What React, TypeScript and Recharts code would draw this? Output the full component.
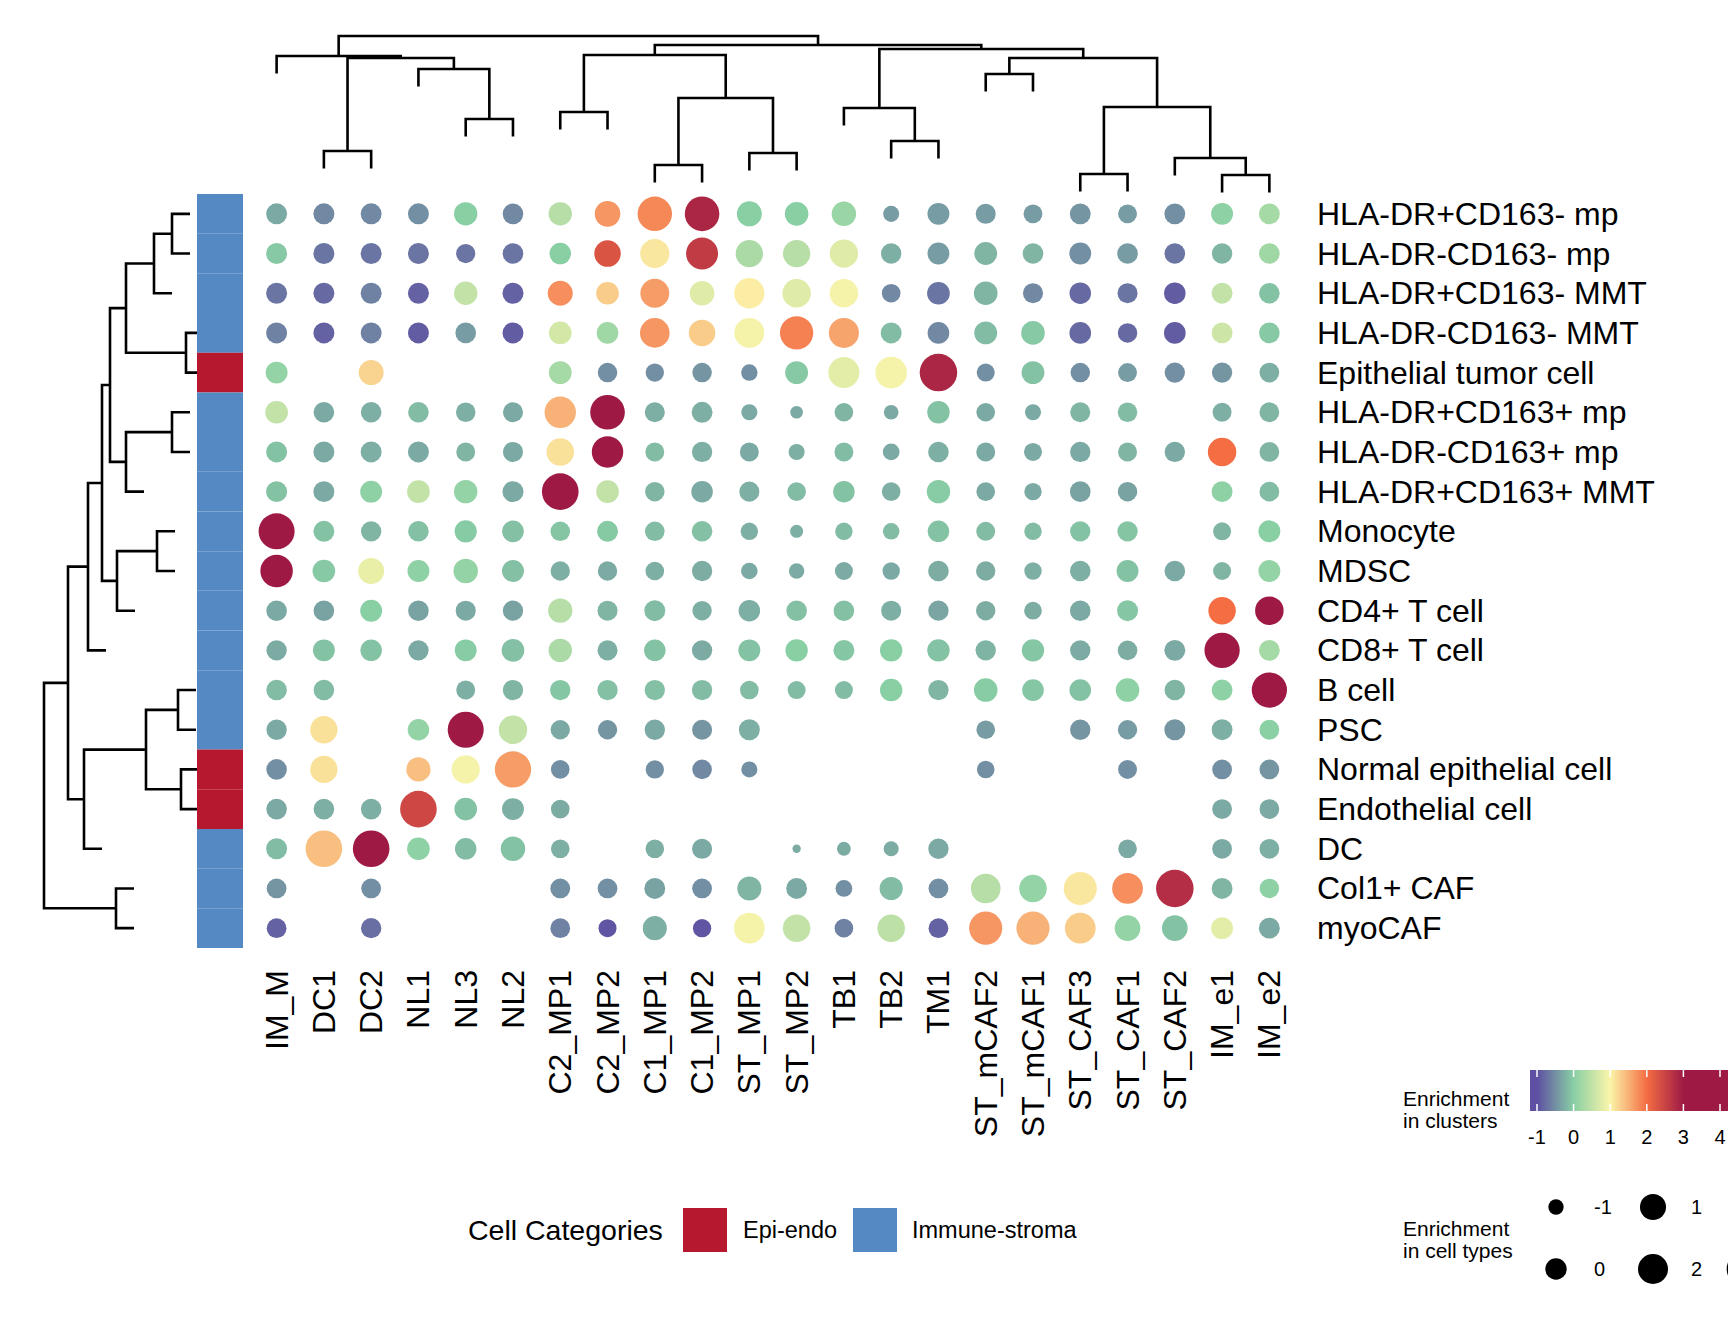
import React from "react"
import { ScatterChart, Scatter, XAxis, YAxis, ZAxis, ReferenceArea } from "recharts"

const FONT = "'Liberation Sans', Arial, Helvetica, sans-serif"

// columns (clusters) in dendrogram order
const clusters = [
  "IM_M", "DC1", "DC2", "NL1", "NL3", "NL2", "C2_MP1", "C2_MP2", "C1_MP1", "C1_MP2", "ST_MP1",
  "ST_MP2", "TB1", "TB2", "TM1", "ST_mCAF2", "ST_mCAF1", "ST_CAF3", "ST_CAF1", "ST_CAF2", "IM_e1", "IM_e2"
]

// rows (cell types)
const cellTypes = [
  "HLA-DR+CD163- mp", "HLA-DR-CD163- mp", "HLA-DR+CD163- MMT", "HLA-DR-CD163- MMT",
  "Epithelial tumor cell", "HLA-DR+CD163+ mp", "HLA-DR-CD163+ mp", "HLA-DR+CD163+ MMT",
  "Monocyte", "MDSC", "CD4+ T cell", "CD8+ T cell", "B cell", "PSC",
  "Normal epithelial cell", "Endothelial cell", "DC", "Col1+ CAF", "myoCAF"
]

const cellCategory = [
  "Immune-stroma", "Immune-stroma", "Immune-stroma", "Immune-stroma", "Epi-endo",
  "Immune-stroma", "Immune-stroma", "Immune-stroma", "Immune-stroma", "Immune-stroma",
  "Immune-stroma", "Immune-stroma", "Immune-stroma", "Immune-stroma", "Epi-endo",
  "Epi-endo", "Immune-stroma", "Immune-stroma", "Immune-stroma"
]

const categoryColors: Record<string, string> = {
  "Epi-endo": "#B5182F",
  "Immune-stroma": "#5589C4",
}

const _ = null

// colour: enrichment in clusters
const clusterEnrichment: (number | null)[][] = [
  [-0.3, -0.55, -0.55, -0.5, 0.0, -0.55, 0.4, 1.7, 1.8, 2.85, 0.0, 0.0, 0.15, -0.4, -0.4, -0.4, -0.4, -0.45, -0.4, -0.5, 0.05, 0.25],
  [-0.05, -0.7, -0.7, -0.7, -0.7, -0.7, 0.0, 2.3, 1.1, 2.6, 0.3, 0.4, 0.75, -0.25, -0.4, -0.2, -0.2, -0.5, -0.4, -0.7, -0.2, 0.2],
  [-0.7, -0.8, -0.6, -0.85, 0.5, -0.85, 1.75, 1.3, 1.65, 0.75, 1.05, 0.75, 0.95, -0.55, -0.7, -0.2, -0.55, -0.8, -0.7, -0.9, 0.5, -0.1],
  [-0.6, -0.85, -0.6, -0.9, -0.4, -0.9, 0.65, 0.2, 1.7, 1.3, 0.95, 1.85, 1.6, -0.15, -0.55, -0.15, -0.05, -0.8, -0.8, -0.9, 0.6, -0.05],
  [0.1, _, 1.25, _, _, _, 0.25, -0.5, -0.5, -0.45, -0.5, -0.05, 0.8, 0.95, 2.85, -0.5, -0.1, -0.5, -0.4, -0.5, -0.45, -0.25],
  [0.5, -0.3, -0.25, -0.15, -0.25, -0.3, 1.5, 3.2, -0.25, -0.25, -0.3, -0.3, -0.2, -0.3, -0.1, -0.3, -0.3, -0.2, -0.15, _, -0.25, -0.2],
  [-0.1, -0.3, -0.25, -0.3, -0.2, -0.3, 1.15, 3.3, -0.15, -0.25, -0.3, -0.25, -0.15, -0.3, -0.25, -0.3, -0.3, -0.3, -0.2, -0.3, 2.0, -0.2],
  [-0.1, -0.3, 0.05, 0.5, 0.1, -0.3, 3.3, 0.5, -0.2, -0.3, -0.25, -0.15, -0.1, -0.25, -0.02, -0.3, -0.3, -0.35, -0.35, _, 0.05, -0.15],
  [3.3, -0.1, -0.2, -0.12, -0.03, -0.12, -0.08, -0.04, -0.15, -0.12, -0.25, -0.25, -0.15, -0.15, -0.1, -0.15, -0.15, -0.1, -0.08, _, -0.2, 0.0],
  [3.3, -0.05, 0.85, 0.05, 0.1, -0.12, -0.25, -0.28, -0.25, -0.27, -0.3, -0.28, -0.28, -0.3, -0.27, -0.27, -0.25, -0.25, -0.1, -0.3, -0.2, 0.1],
  [-0.3, -0.35, 0.0, -0.35, -0.3, -0.35, 0.4, -0.2, -0.15, -0.25, -0.25, -0.12, -0.12, -0.25, -0.33, -0.27, -0.27, -0.3, -0.07, _, 2.0, 3.3],
  [-0.28, -0.1, -0.1, -0.3, -0.02, -0.12, 0.3, -0.25, -0.1, -0.28, -0.1, 0.0, -0.07, 0.0, -0.1, -0.22, -0.07, -0.28, -0.27, -0.3, 3.3, 0.25],
  [-0.15, -0.15, _, _, -0.25, -0.2, -0.07, -0.12, -0.12, -0.15, -0.15, -0.15, -0.15, 0.0, -0.2, -0.02, -0.07, -0.1, 0.05, -0.2, 0.05, 3.3],
  [-0.3, 1.15, _, 0.1, 3.3, 0.5, -0.3, -0.45, -0.3, -0.45, -0.25, _, _, _, _, -0.4, _, -0.45, -0.4, -0.45, -0.25, 0.02],
  [-0.5, 1.15, _, 1.4, 0.95, 1.65, -0.5, _, -0.5, -0.55, -0.5, _, _, _, _, -0.5, _, _, -0.5, _, -0.5, -0.45],
  [-0.3, -0.25, -0.25, 2.45, -0.1, -0.25, -0.28, _, _, _, _, _, _, _, _, _, _, _, _, _, -0.3, -0.3],
  [-0.15, 1.4, 3.3, 0.05, -0.15, -0.1, -0.25, _, -0.25, -0.3, _, -0.28, -0.28, -0.28, -0.3, _, _, _, -0.3, _, -0.3, -0.25],
  [-0.45, _, -0.5, _, _, _, -0.5, -0.5, -0.35, -0.5, -0.2, -0.3, -0.5, -0.15, -0.5, 0.4, 0.1, 1.1, 1.75, 2.75, -0.2, 0.05],
  [-0.85, _, -0.75, _, _, _, -0.6, -0.95, -0.25, -0.95, 0.95, 0.5, -0.6, 0.45, -0.85, 1.7, 1.5, 1.3, 0.1, -0.1, 0.8, -0.3],
]

// size: enrichment in cell types
const typeEnrichment: (number | null)[][] = [
  [-0.08, -0.08, -0.08, -0.08, 0.4, -0.15, 0.4, 0.9, 3.3, 3.35, 0.75, 0.45, 0.65, -0.9, 0.1, -0.25, -0.45, -0.1, -0.45, -0.1, 0.1, -0.1],
  [-0.08, -0.08, -0.08, -0.08, -0.4, -0.15, 0.02, 1.1, 1.8, 2.55, 1.3, 1.3, 1.55, -0.2, 0.1, 0.3, -0.15, 0.1, -0.15, -0.15, -0.2, -0.15],
  [-0.08, -0.08, -0.08, -0.08, 0.4, -0.08, 0.75, 0.25, 1.7, 0.65, 2.1, 1.6, 1.6, -0.5, 0.25, 0.45, -0.25, 0.02, -0.25, 0.02, -0.1, -0.15],
  [-0.08, -0.08, -0.08, -0.08, -0.15, -0.08, 0.25, 0.05, 1.9, 1.1, 2.0, 2.95, 2.0, -0.08, 0.05, 0.3, 0.45, 0.05, -0.35, 0.05, -0.1, -0.15],
  [0.1, _, 0.75, _, _, _, 0.3, -0.35, -0.55, -0.35, -0.85, 0.3, 2.3, 2.45, 4.3, -0.6, 0.3, -0.35, -0.45, -0.2, -0.2, -0.3],
  [0.25, -0.15, -0.15, -0.15, -0.35, -0.25, 2.4, 3.35, -0.25, -0.1, -0.9, -1.35, -0.5, -1.1, 0.2, -0.5, -0.9, -0.25, -0.35, _, -0.45, -0.3],
  [-0.08, -0.08, -0.08, -0.08, -0.45, -0.25, 1.35, 2.4, -0.45, -0.2, -0.45, -0.9, -0.45, -0.8, -0.15, -0.45, -0.6, -0.2, -0.45, -0.2, 1.6, -0.3],
  [-0.08, -0.08, 0.1, 0.25, 0.4, -0.08, 4.0, 0.25, -0.35, 0.02, -0.25, -0.5, 0.02, -0.5, 0.4, -0.5, -0.7, -0.15, -0.35, _, -0.1, -0.3],
  [3.8, -0.08, -0.2, -0.15, 0.15, 0.05, -0.33, -0.08, -0.33, -0.15, -0.7, -1.3, -0.7, -0.83, 0.02, -0.45, -0.7, -0.2, -0.2, _, -0.6, 0.1],
  [2.7, 0.25, 1.0, 0.1, 0.65, 0.1, -0.37, -0.37, -0.5, -0.2, -0.83, -1.0, -0.6, -0.7, -0.15, -0.37, -0.7, -0.15, 0.1, -0.15, -0.6, 0.1],
  [-0.15, -0.15, 0.1, -0.15, -0.25, -0.2, 0.6, -0.25, -0.08, -0.37, 0.02, -0.15, -0.15, -0.25, -0.2, -0.37, -0.65, -0.15, -0.08, _, 1.35, 1.6],
  [-0.2, 0.1, 0.02, -0.2, 0.1, 0.25, 0.4, -0.25, 0.02, -0.2, 0.1, 0.2, -0.08, 0.2, 0.2, -0.2, 0.2, -0.2, -0.33, -0.08, 3.55, -0.1],
  [-0.15, -0.15, _, _, -0.45, -0.2, -0.2, -0.2, -0.2, -0.2, -0.5, -0.6, -0.6, 0.2, -0.2, 0.45, 0.05, 0.05, 0.45, -0.15, -0.1, 3.55],
  [-0.2, 1.3, _, 0.02, 3.8, 1.6, -0.37, -0.37, -0.2, -0.25, -0.08, _, _, _, _, -0.5, _, -0.2, -0.37, -0.08, -0.1, -0.3],
  [-0.15, 1.3, _, 0.6, 1.55, 3.9, -0.5, _, -0.55, -0.33, -0.9, _, _, _, _, -0.67, _, _, -0.45, _, -0.3, -0.3],
  [-0.15, -0.15, -0.15, 4.0, 0.25, 0.1, -0.5, _, _, _, _, _, _, _, _, _, _, _, _, _, -0.3, -0.3],
  [-0.08, 4.0, 4.0, 0.25, 0.02, 0.65, -0.5, _, -0.5, -0.25, _, -1.75, -1.2, -1.05, -0.2, _, _, _, -0.5, _, -0.3, -0.3],
  [-0.3, _, -0.3, _, _, _, -0.3, -0.3, -0.1, -0.3, 0.55, -0.1, -0.8, 0.35, -0.3, 1.9, 1.35, 2.9, 2.2, 4.3, -0.1, -0.35],
  [-0.3, _, -0.2, _, _, _, -0.3, -0.6, 0.55, -0.55, 2.2, 1.35, -0.5, 1.35, -0.3, 2.9, 2.9, 2.2, 0.9, 0.9, 0.1, -0.1],
]

// hclust-style merges: negative = leaf (1-based), positive = earlier merge, then height
const clusterMerges: [number, number, number][] = [
  [-2, -3, 4.3], [-5, -6, 7.5], [-4, 2, 12.5], [1, 3, 13.6], [-1, 4, 13.8],
  [-7, -8, 8.2], [-9, -10, 2.9], [-11, -12, 4.1], [7, 8, 9.6], [6, 9, 13.9],
  [-14, -15, 5.3], [-13, 11, 8.6], [-16, -17, 12.0], [-18, -19, 2.0], [-21, -22, 1.9],
  [-20, 15, 3.6], [14, 16, 8.7], [13, 17, 13.6], [12, 18, 14.5], [10, 19, 14.9], [5, 20, 15.8],
]

const cellTypeMerges: [number, number, number][] = [
  [-1, -2, 2.5], [1, -3, 4.3], [-4, -5, 1.1], [2, 3, 7.1], [-6, -7, 2.5], [5, -8, 7.1],
  [4, 6, 8.7], [-9, -10, 4.0], [8, -11, 8.0], [7, 9, 9.5], [10, -12, 10.9],
  [-13, -14, 1.9], [-15, -16, 1.6], [12, 13, 5.1], [14, -17, 11.3], [11, 15, 12.9],
  [-18, -19, 8.1], [16, 17, 15.3],
]

const colorStops: [number, string][] = [
  [-1, "#5E4FA2"], [0, "#88CFA4"], [1, "#FBF5A9"], [2, "#F46D43"], [3, "#9E1A45"], [4, "#9E1A45"],
]
const colorTicks = [-1, 0, 1, 2, 3, 4]
const sizeLegend = [-1, 0, 1, 2, 3, 4]

// size scale (area)
const SIZE_DOMAIN: [number, number] = [-2, 4.5]
const SIZE_RANGE: [number, number] = [12, 1141]

const hex = (c: string) => [1, 3, 5].map((i) => parseInt(c.slice(i, i + 2), 16))

function colorFor(v: number) {
  if (v <= colorStops[0][0]) return colorStops[0][1]
  for (let i = 1; i < colorStops.length; i++) {
    const [v1, c1] = colorStops[i]
    if (v <= v1) {
      const [v0, c0] = colorStops[i - 1]
      const t = (v - v0) / (v1 - v0)
      const a = hex(c0), b = hex(c1)
      const m = a.map((x, k) => Math.round(x + (b[k] - x) * t))
      return `rgb(${m[0]},${m[1]},${m[2]})`
    }
  }
  return colorStops[colorStops.length - 1][1]
}

function legendRadius(s: number) {
  const area = SIZE_RANGE[0] + ((s - SIZE_DOMAIN[0]) / (SIZE_DOMAIN[1] - SIZE_DOMAIN[0])) * (SIZE_RANGE[1] - SIZE_RANGE[0])
  return Math.sqrt(area / Math.PI)
}

// turn merges into U-shaped links: [{p, h}, ...]
function buildLinks(merges: [number, number, number][], hang: number) {
  const pos: number[] = []
  const hts: number[] = []
  return merges.map(([a, b, h], i) => {
    const node = (id: number) => (id < 0 ? { p: -id - 1, h: Math.max(h - hang, 0) } : { p: pos[id - 1], h: hts[id - 1] })
    const A = node(a)
    const B = node(b)
    pos[i] = (A.p + B.p) / 2
    hts[i] = h
    return [
      { p: A.p, h: A.h },
      { p: A.p, h },
      { p: B.p, h },
      { p: B.p, h: B.h },
    ]
  })
}

const dots = clusterEnrichment.flatMap((row, r) =>
  row
    .map((c, k) => ({ x: k, y: r, c, s: typeEnrichment[r][k] }))
    .filter((d) => d.c !== null && d.s !== null)
)

const X_DOMAIN: [number, number] = [-1.684, 21.5]
const Y_DOMAIN: [number, number] = [-0.5, 18.5]

const Dot = (props: any) => {
  const { cx, cy, width, size, payload } = props
  const r = width ? width / 2 : Math.sqrt((size || 0) / Math.PI)
  return <circle cx={cx} cy={cy} r={r} fill={colorFor(payload.c)} />
}

const ColTick = (props: any) => {
  const { x, payload } = props
  const y = 970
  return (
    <text x={x} y={y} transform={`rotate(-90, ${x}, ${y})`} textAnchor="end" dominantBaseline="central"
      fontFamily={FONT} fontSize={32} fill="#000">
      {clusters[payload.value]}
    </text>
  )
}

const RowTick = (props: any) => {
  const { y, payload } = props
  return (
    <text x={1317} y={y} textAnchor="start" dominantBaseline="central" fontFamily={FONT} fontSize={32} fill="#000">
      {cellTypes[payload.value]}
    </text>
  )
}

const none = () => <g />

const TopDendrogram = () => {
  const links = buildLinks(clusterMerges, 1.75)
  return (
    <ScatterChart width={1728} height={194} margin={{ top: 0, right: 435, bottom: 0, left: 197 }}>
      <XAxis type="number" dataKey="x" domain={X_DOMAIN} hide />
      <YAxis type="number" dataKey="y" domain={[0, 19.4]} hide />
      {links.map((l, i) => (
        <Scatter key={i} data={l.map((d) => ({ x: d.p, y: d.h }))} line={{ stroke: "#000", strokeWidth: 2.6 }}
          lineJointType="linear" shape={none} isAnimationActive={false} />
      ))}
    </ScatterChart>
  )
}

const LeftDendrogram = () => {
  const links = buildLinks(cellTypeMerges, 1.8)
  return (
    <ScatterChart width={197} height={1344} margin={{ top: 194, right: 0, bottom: 396, left: 0 }}>
      <XAxis type="number" dataKey="x" domain={[0, 19.7]} reversed hide />
      <YAxis type="number" dataKey="y" domain={Y_DOMAIN} reversed hide />
      {links.map((l, i) => (
        <Scatter key={i} data={l.map((d) => ({ x: d.h, y: d.p }))} line={{ stroke: "#000", strokeWidth: 2.6 }}
          lineJointType="linear" shape={none} isAnimationActive={false} />
      ))}
    </ScatterChart>
  )
}

const Legends = () => {
  const cbX0 = 1530, cbX1 = 1728, cbY = 1070, cbH = 41
  const px = (v: number) => 1537 + 36.6 * (v + 1)
  const sizeCols = [1556, 1653, 1745]
  return (
    <svg width={1728} height={1344} style={{ position: "absolute", left: 0, top: 0, pointerEvents: "none" }}>
      <defs>
        <linearGradient id="cb" gradientUnits="userSpaceOnUse" x1={cbX0} x2={cbX1} y1={0} y2={0}>
          {colorStops.map(([v, c]) => (
            <stop key={v} offset={(px(v) - cbX0) / (cbX1 - cbX0)} stopColor={c} />
          ))}
        </linearGradient>
      </defs>
      {/* cell category legend */}
      <text x={468} y={1230} dominantBaseline="central" fontFamily={FONT} fontSize={28.5}>Cell Categories</text>
      <rect x={683} y={1208} width={44} height={44} fill={categoryColors["Epi-endo"]} />
      <text x={743} y={1230} dominantBaseline="central" fontFamily={FONT} fontSize={23.5}>Epi-endo</text>
      <rect x={853} y={1208} width={44} height={44} fill={categoryColors["Immune-stroma"]} />
      <text x={912} y={1230} dominantBaseline="central" fontFamily={FONT} fontSize={23.5}>Immune-stroma</text>

      {/* colour bar */}
      <text fontFamily={FONT} fontSize={21}>
        <tspan x={1403} y={1106}>Enrichment</tspan>
        <tspan x={1403} y={1128}>in clusters</tspan>
      </text>
      <rect x={cbX0} y={cbY} width={cbX1 - cbX0} height={cbH} fill="url(#cb)" />
      {colorTicks.map((v) => (
        <g key={v}>
          <line x1={px(v)} x2={px(v)} y1={cbY} y2={cbY + 7} stroke="#fff" strokeWidth={1.5} />
          <line x1={px(v)} x2={px(v)} y1={cbY + cbH - 7} y2={cbY + cbH} stroke="#fff" strokeWidth={1.5} />
          <text x={px(v)} y={1137} textAnchor="middle" dominantBaseline="central" fontFamily={FONT} fontSize={20}>{v}</text>
        </g>
      ))}

      {/* size legend */}
      <text fontFamily={FONT} fontSize={21}>
        <tspan x={1403} y={1236}>Enrichment</tspan>
        <tspan x={1403} y={1258}>in cell types</tspan>
      </text>
      {sizeLegend.map((s, i) => {
        const cx = sizeCols[Math.floor(i / 2)]
        const cy = i % 2 === 0 ? 1207 : 1269
        return (
          <g key={s}>
            <circle cx={cx} cy={cy} r={legendRadius(s)} fill="#000" />
            {cx + 38 < 1710 && (
              <text x={cx + 38} y={cy} dominantBaseline="central" fontFamily={FONT} fontSize={20}>{s}</text>
            )}
          </g>
        )
      })}
    </svg>
  )
}

export default function App() {
  return (
    <div style={{ position: "absolute", left: 0, top: 0, width: 1728, height: 1344, background: "#fff", overflow: "hidden" }}>
      <div style={{ position: "absolute", left: 0, top: 0 }}>
        <ScatterChart width={1728} height={1344} margin={{ top: 194, right: 0, bottom: 0, left: 197 }}>
          <XAxis type="number" dataKey="x" domain={X_DOMAIN} ticks={clusters.map((_c, i) => i)} interval={0}
            height={396} axisLine={false} tickLine={false} tick={<ColTick />} allowDataOverflow />
          <YAxis type="number" dataKey="y" domain={Y_DOMAIN} ticks={cellTypes.map((_c, i) => i)} interval={0}
            reversed orientation="right" width={435} axisLine={false} tickLine={false} tick={<RowTick />} allowDataOverflow />
          <ZAxis type="number" dataKey="s" domain={SIZE_DOMAIN} range={SIZE_RANGE} />
          {cellCategory.map((cat, r) => (
            <ReferenceArea key={r} x1={X_DOMAIN[0]} x2={-0.711} y1={r - 0.5} y2={r + 0.5}
              fill={categoryColors[cat]} fillOpacity={1} stroke="none" ifOverflow="visible" />
          ))}
          <Scatter data={dots} shape={<Dot />} isAnimationActive={false} />
        </ScatterChart>
      </div>
      <div style={{ position: "absolute", left: 0, top: 0 }}>
        <TopDendrogram />
      </div>
      <div style={{ position: "absolute", left: 0, top: 0 }}>
        <LeftDendrogram />
      </div>
      <Legends />
    </div>
  )
}
